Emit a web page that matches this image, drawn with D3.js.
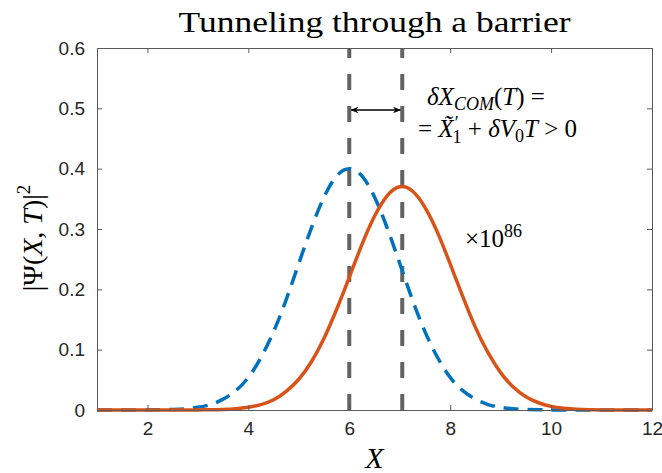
<!DOCTYPE html>
<html lang="en">
<head>
<meta charset="UTF-8">
<title>Tunneling through a barrier</title>
<style>
    body { margin: 0; background: #fff; }
    .tick text { font-family: "Liberation Sans", Arial, sans-serif; font-size: 19px; fill: #262626; }
    .tex { font-family: "Liberation Serif", "DejaVu Serif", serif; fill: #000; }
</style>
</head>
<body>
<script src="https://cdn.jsdelivr.net/npm/d3@7"></script>
<script>
// sampled x positions
var xs = [1, 1.25, 1.5, 1.75, 2, 2.25, 2.5, 2.75, 3, 3.25, 3.5, 3.75, 4, 4.25, 4.5, 4.75,
          5, 5.25, 5.5, 5.75, 6, 6.25, 6.5, 6.75, 7, 7.25, 7.5, 7.75, 8, 8.25, 8.5, 8.75,
          9, 9.25, 9.5, 9.75, 10, 10.25, 10.5, 10.75, 11, 11.25, 11.5, 11.75, 12];
// initial packet (blue dashed)
var psi0 = [0, 0, 0, 0, 0.0001, 0.0004, 0.0009, 0.002, 0.0044, 0.009, 0.018, 0.032, 0.054, 0.087, 0.130, 0.183,
            0.243, 0.302, 0.353, 0.388, 0.400, 0.388, 0.353, 0.302, 0.243, 0.183, 0.130, 0.087, 0.054, 0.032, 0.018, 0.009,
            0.0044, 0.002, 0.0009, 0.0004, 0.0001, 0, 0, 0, 0, 0, 0, 0, 0];
// transmitted packet x 10^86 (orange)
var psiT = [0, 0, 0, 0, 0, 0, 0, 0.0001, 0.0002, 0.0004, 0.001, 0.0022, 0.0046, 0.009, 0.017, 0.031,
            0.051, 0.080, 0.119, 0.167, 0.220, 0.274, 0.321, 0.355, 0.370, 0.363, 0.336, 0.294, 0.242, 0.188, 0.137, 0.095,
            0.062, 0.038, 0.022, 0.012, 0.006, 0.003, 0.0013, 0.0006, 0.0002, 0.0001, 0, 0, 0];
// centre of mass of the two packets
var comX = [6, 7.05];
var xTicks = [2, 4, 6, 8, 10, 12];
var yTicks = [0, 0.1, 0.2, 0.3, 0.4, 0.5, 0.6];
var yTickLabels = ["0", "0.1", "0.2", "0.3", "0.4", "0.5", "0.6"];

var w = 662, h = 473;
var padL = 97, padR = 652, padT = 48, padB = 410;

var svg = d3.select("body").append("svg").attr("width", w).attr("height", h);

var x = d3.scaleLinear().domain([1, 12]).range([padL, padR]);
var y = d3.scaleLinear().domain([0, 0.6]).range([padB, padT]);

var defs = svg.append("defs");
defs.append("clipPath").attr("id", "clip")
    .append("rect").attr("x", padL).attr("y", padT).attr("width", padR - padL).attr("height", padB - padT + 3);

var plot = svg.append("g").attr("clip-path", "url(#clip)");

// vertical markers
plot.selectAll("line.com").data(comX).enter().append("line")
    .attr("class", "com")
    .attr("x1", function (d) { return x(d); }).attr("x2", function (d) { return x(d); })
    .attr("y1", y(0)).attr("y2", y(0.6))
    .attr("stroke", "#636363").attr("stroke-width", 4).attr("stroke-dasharray", "16,16");

var line = d3.line().curve(d3.curveNatural);

plot.append("path")
    .attr("d", line(xs.map(function (d, i) { return [x(d), y(psi0[i])]; })))
    .attr("fill", "none").attr("stroke", "#0072BD").attr("stroke-width", 3.5)
    .attr("stroke-dasharray", "15,9");

plot.append("path")
    .attr("d", line(xs.map(function (d, i) { return [x(d), y(psiT[i])]; })))
    .attr("fill", "none").attr("stroke", "#D95319").attr("stroke-width", 3.5);

// axes, ticks pointing in, box mirrored
svg.append("g").attr("transform", "translate(0," + padB + ")")
    .call(d3.axisBottom(x).tickValues(xTicks).tickSizeInner(-5).tickSizeOuter(0).tickPadding(12));
svg.append("g").attr("transform", "translate(0," + padT + ")")
    .call(d3.axisTop(x).tickValues(xTicks).tickSizeInner(-5).tickSizeOuter(0).tickFormat(""));
svg.append("g").attr("transform", "translate(" + padL + ",0)")
    .call(d3.axisLeft(y).tickValues(yTicks).tickSizeInner(-5).tickSizeOuter(0).tickPadding(12)
        .tickFormat(function (d, i) { return yTickLabels[i]; }));
svg.append("g").attr("transform", "translate(" + padR + ",0)")
    .call(d3.axisRight(y).tickValues(yTicks).tickSizeInner(-5).tickSizeOuter(0).tickFormat(""));
svg.selectAll(".tick line, .domain").attr("stroke", "#5a5a5a");

// double arrow between the two centres
var marker = defs.append("marker").attr("id", "arr")
    .attr("viewBox", "0 0 10 10").attr("refX", 9).attr("refY", 5)
    .attr("markerWidth", 11).attr("markerHeight", 8).attr("markerUnits", "userSpaceOnUse")
    .attr("orient", "auto-start-reverse");
marker.append("path").attr("d", "M0,1 L10,5 L0,9 L3,5 Z").attr("fill", "#000");
svg.append("line")
    .attr("x1", x(comX[0]) + 2).attr("x2", x(comX[1]) - 2)
    .attr("y1", 110).attr("y2", 110)
    .attr("stroke", "#000").attr("stroke-width", 1.3)
    .attr("marker-start", "url(#arr)").attr("marker-end", "url(#arr)");

// title
svg.append("text").attr("class", "tex")
    .attr("x", (padL + padR) / 2).attr("y", 32)
    .attr("text-anchor", "middle").attr("font-size", 30)
    .attr("textLength", 392).attr("lengthAdjust", "spacingAndGlyphs")
    .text("Tunneling through a barrier");

// x label
svg.append("text").attr("class", "tex")
    .attr("x", (padL + padR) / 2).attr("y", 468)
    .attr("text-anchor", "middle").attr("font-size", 30).attr("font-style", "italic")
    .text("X");

// y label
var yl = svg.append("text").attr("class", "tex")
    .attr("transform", "translate(42,238) rotate(-90)")
    .attr("text-anchor", "middle").attr("font-size", 28);
yl.append("tspan").text("|\u03A8(");
yl.append("tspan").attr("font-style", "italic").text("X");
yl.append("tspan").text(", ");
yl.append("tspan").attr("font-style", "italic").text("T");
yl.append("tspan").text(")|");
yl.append("tspan").attr("font-size", 19).attr("dy", -12).text("2");

// annotation
var a1 = svg.append("text").attr("class", "tex").attr("x", 427).attr("y", 105).attr("font-size", 25);
a1.append("tspan").attr("font-style", "italic").text("\u03B4X");
a1.append("tspan").attr("font-style", "italic").attr("font-size", 18).attr("dy", 5).text("COM");
a1.append("tspan").attr("dy", -5).text("(");
a1.append("tspan").attr("font-style", "italic").text("T");
a1.append("tspan").text(") =");

var a2 = svg.append("text").attr("class", "tex").attr("x", 418).attr("y", 137).attr("font-size", 25);
a2.append("tspan").text("= ");
a2.append("tspan").attr("font-style", "italic").text("X\u0303");
a2.append("tspan").attr("font-size", 18).attr("dx", 1).attr("dy", -8).text("\u2032");
a2.append("tspan").attr("font-size", 18).attr("dx", -6).attr("dy", 14).text("1");
a2.append("tspan").attr("dy", -6).text(" + ");
a2.append("tspan").attr("font-style", "italic").text("\u03B4V");
a2.append("tspan").attr("font-size", 18).attr("dy", 5).text("0");
a2.append("tspan").attr("font-style", "italic").attr("dy", -5).text("T");
a2.append("tspan").text(" > 0");

var a3 = svg.append("text").attr("class", "tex").attr("x", 465).attr("y", 247).attr("font-size", 25);
a3.append("tspan").text("\u00D710");
a3.append("tspan").attr("font-size", 18).attr("dy", -10).text("86");
</script>
</body>
</html>
